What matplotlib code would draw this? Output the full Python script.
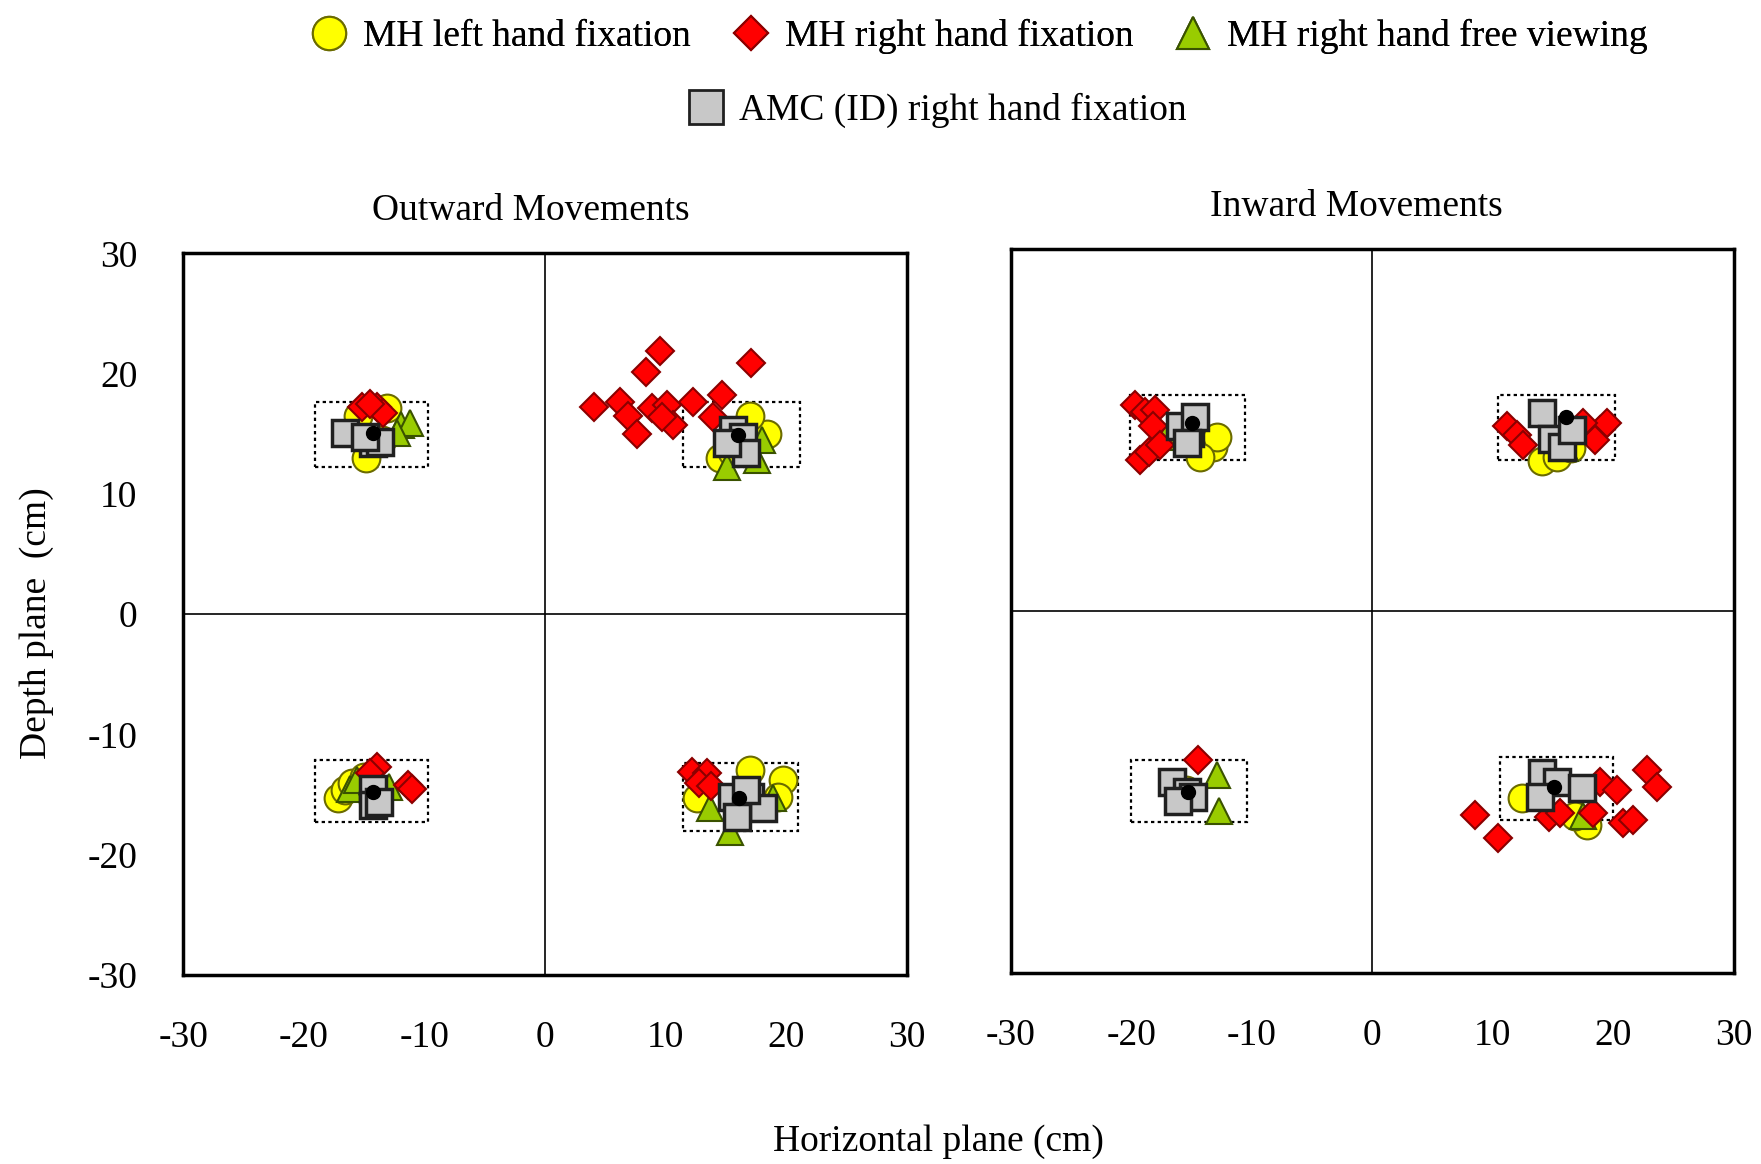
import matplotlib
matplotlib.use('Agg')
import matplotlib.pyplot as plt
from matplotlib.patches import Rectangle
from matplotlib.lines import Line2D

plt.rcParams['font.family'] = ['Liberation Serif', 'DejaVu Serif']
plt.rcParams['axes.unicode_minus'] = False

# ---- Outward movements (left panel) ----
out_circle_x = [-14.8, -13.1, -15.5, -13.5, 14.5, 18.4, 17.0, 15.5, -17.2, -16.6, -16.0, -15.0, 12.6, 19.7, 19.3, 17.0]
out_circle_y = [13.0, 17.1, 16.5, 14.5, 13.0, 15.0, 16.5, 13.5, -15.3, -14.6, -14.0, -13.5, -15.3, -13.8, -15.2, -13.0]

out_diamond_x = [-15.2, -13.9, -13.4, -14.5,
                 9.5, 17.1, 8.4, 4.1, 6.2, 6.9, 7.6, 8.9, 10.1, 10.6, 12.3, 14.7, 13.9, 9.7,
                 -13.9, -11.4, -11.0, -14.5, 12.2, 13.4, 12.8, 13.8]
out_diamond_y = [17.2, 17.2, 16.7, 17.5,
                 21.9, 20.9, 20.1, 17.2, 17.6, 16.5, 15.0, 17.1, 17.4, 15.7, 17.6, 18.2, 16.4, 16.4,
                 -12.7, -14.2, -14.5, -13.2, -13.1, -13.2, -14.0, -14.3]

out_triangle_x = [-11.9, -11.2, -12.3, 17.6, 15.1, 18.0, -16.2, -15.6, -12.9, 13.7, 18.9, 15.3]
out_triangle_y = [15.7, 15.9, 15.1, 12.8, 12.2, 14.5, -14.5, -13.8, -14.4, -16.1, -15.3, -18.1]

out_square_x = [-16.6, -14.3, -13.7, -14.9, 15.6, 16.4, 16.7, 15.1, -14.3, -14.3, -13.8, 15.5, 17.0, 18.1, 15.9, 16.7]
out_square_y = [15.1, 14.2, 14.3, 14.7, 15.3, 14.7, 13.4, 14.2, -14.5, -15.9, -15.6, -15.2, -15.2, -16.1, -16.9, -14.6]

out_mean_x = [-14.3, 16.0, -14.3, 16.1]
out_mean_y = [15.1, 14.9, -14.8, -15.3]

# target zones: x0, x1, y0, y1
out_box_x0 = [-19.1, 11.4, -19.1, 11.4]
out_box_x1 = [-9.7, 21.1, -9.7, 21.0]
out_box_y0 = [12.2, 12.2, -17.3, -18.0]
out_box_y1 = [17.6, 17.6, -12.1, -12.4]

# ---- Inward movements (right panel) ----
in_circle_x = [-13.2, -12.9, -14.3, 14.1, 15.3, 16.5, -15.5, 12.4, 17.8, 16.8]
in_circle_y = [13.6, 14.4, 12.8, 12.4, 12.8, 13.5, -14.8, -15.5, -17.7, -17.0]

in_diamond_x = [-19.7, -18.9, -18.0, -18.2, -19.3, -18.5, -17.6,
                11.2, 12.0, 12.5, 18.9, 19.5, 18.5, 17.5,
                -14.5,
                8.5, 10.4, 22.8, 23.6, 18.9, 20.3, 20.8, 21.6, 18.3, 14.7, 15.6]
in_diamond_y = [17.1, 16.5, 16.7, 15.3, 12.5, 13.2, 13.8,
                15.3, 14.6, 13.8, 15.0, 15.6, 14.2, 15.6,
                -12.3,
                -16.9, -18.8, -13.2, -14.6, -14.2, -14.8, -17.6, -17.3, -16.7, -17.1, -16.7]

in_triangle_x = [-17.1, 16.0, -12.7, -12.9, 17.5]
in_triangle_y = [14.4, 13.5, -16.6, -13.6, -17.0]

in_square_x = [-15.1, -16.0, -14.7, -15.4, 14.1, 14.9, 15.7, 16.6, -16.6, -15.4, -14.9, -16.1, 14.1, 15.3, 17.4, 13.9]
in_square_y = [14.8, 15.3, 16.1, 13.9, 16.4, 14.3, 13.6, 15.0, -14.2, -15.0, -15.4, -15.7, -13.4, -14.2, -14.7, -15.4]

in_mean_x = [-15.0, 16.1, -15.3, 15.1]
in_mean_y = [15.6, 16.1, -15.0, -14.6]

in_box_x0 = [-20.1, 10.4, -20.0, 10.6]
in_box_x1 = [-10.6, 20.1, -10.4, 20.0]
in_box_y0 = [12.5, 12.5, -17.5, -17.3]
in_box_y1 = [17.9, 17.9, -12.3, -12.1]

ticks = [-30, -20, -10, 0, 10, 20, 30]
legend_labels = ['MH left hand fixation', 'MH right hand fixation',
                 'MH right hand free viewing', 'AMC (ID) right hand fixation']

circle_style = dict(marker='o', ms=20, mfc='#FFFF00', mec='#6B6B00', mew=1.5, ls='none')
diamond_style = dict(marker='D', ms=14, mfc='#FF0000', mec='#8B0000', mew=1.5, ls='none')
triangle_style = dict(marker='^', ms=19, mfc='#99CC00', mec='#3A5200', mew=1.5, ls='none')
square_style = dict(marker='s', ms=19, mfc='#C8C8C8', mec='#202020', mew=2.5, ls='none')
fs = 27

fig = plt.figure(figsize=(17.61, 11.64), dpi=100)
ax1 = fig.add_axes([0.104, 0.1624, 0.411, 0.620])
ax2 = fig.add_axes([0.574, 0.164, 0.4106, 0.622])

panels = [
    (ax1, 'Outward Movements', 0.481, out_circle_x, out_circle_y, out_diamond_x, out_diamond_y,
     out_triangle_x, out_triangle_y, out_square_x, out_square_y, out_mean_x, out_mean_y,
     out_box_x0, out_box_x1, out_box_y0, out_box_y1),
    (ax2, 'Inward Movements', 0.478, in_circle_x, in_circle_y, in_diamond_x, in_diamond_y,
     in_triangle_x, in_triangle_y, in_square_x, in_square_y, in_mean_x, in_mean_y,
     in_box_x0, in_box_x1, in_box_y0, in_box_y1),
]

for (ax, title, title_x, cx, cy, dx, dy, tx, ty, sx, sy, mx, my, bx0, bx1, by0, by1) in panels:
    ax.axhline(0, color='black', lw=1.2, zorder=1)
    ax.axvline(0, color='black', lw=1.2, zorder=1)
    for i in range(len(bx0)):
        ax.add_patch(Rectangle((bx0[i], by0[i]), bx1[i] - bx0[i], by1[i] - by0[i],
                               fill=False, ls=(0, (1.5, 1.5)), lw=1.6, ec='black', zorder=2))
    ax.plot(cx, cy, zorder=3, **circle_style)
    ax.plot(tx, ty, zorder=4, **triangle_style)
    ax.plot(dx, dy, zorder=5, **diamond_style)
    ax.plot(sx, sy, zorder=6, **square_style)
    ax.plot(mx, my, 'o', color='black', ms=10, zorder=7)
    ax.set_xlim(-30, 30)
    ax.set_ylim(-30, 30)
    ax.set_xticks(ticks)
    ax.set_yticks(ticks)
    ax.tick_params(length=0, labelsize=fs, pad=33)
    ax.set_title(title, fontsize=fs, pad=24, x=title_x)
    for sp in ax.spines.values():
        sp.set_linewidth(2.5)

ax2.set_yticklabels([])

h_circle = Line2D([], [], **dict(circle_style, ms=24))
h_diamond = Line2D([], [], **dict(diamond_style, ms=17))
h_triangle = Line2D([], [], **dict(triangle_style, ms=23))
h_square = Line2D([], [], **dict(square_style, ms=25, mew=2))

leg1 = fig.legend([h_circle, h_diamond, h_triangle], legend_labels[:3], ncol=3,
                  loc='center', bbox_to_anchor=(0.556, 0.969), frameon=False,
                  fontsize=fs, handlelength=1.0, handletextpad=0.4, columnspacing=1.1)
fig.add_artist(leg1)
fig.legend([h_square], legend_labels[3:], loc='center', bbox_to_anchor=(0.532, 0.905),
           frameon=False, fontsize=fs, handlelength=1.0, handletextpad=0.4)

fig.text(0.021, 0.465, 'Depth plane  (cm)', rotation=90, ha='center', va='center', fontsize=fs)
fig.text(0.533, 0.019, 'Horizontal plane (cm)', ha='center', va='center', fontsize=fs)

plt.savefig('out.png', dpi=100)
